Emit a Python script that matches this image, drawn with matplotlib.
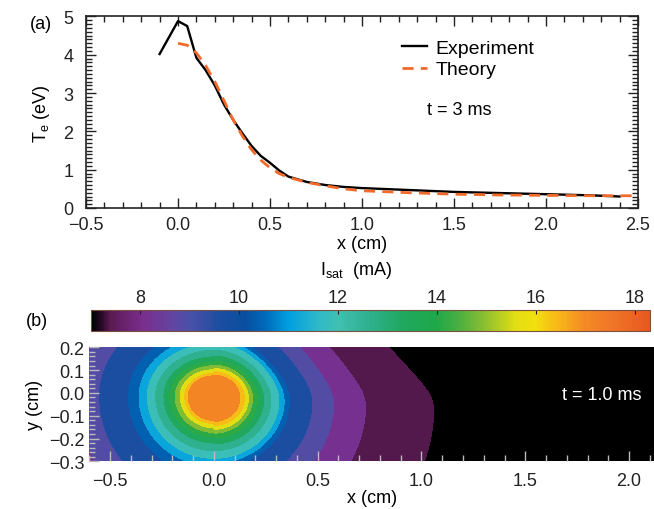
import numpy as np
import matplotlib
matplotlib.use("Agg")
import matplotlib.pyplot as plt
from matplotlib.colors import LinearSegmentedColormap, Normalize
from matplotlib.ticker import MultipleLocator
from matplotlib.cm import ScalarMappable

plt.rcParams['font.family'] = ['Liberation Sans', 'DejaVu Sans']
plt.rcParams['font.size'] = 13
plt.rcParams['mathtext.fontset'] = 'custom'
plt.rcParams['mathtext.rm'] = 'Liberation Sans'
plt.rcParams['mathtext.it'] = 'Liberation Sans'

# (a) electron temperature profiles, t = 3 ms
exp_x = [-0.1, 0.0, 0.05, 0.1, 0.15, 0.2, 0.25, 0.3, 0.35, 0.4, 0.45, 0.5, 0.55,
         0.6, 0.7, 0.8, 0.9, 1.0, 1.25, 1.5, 1.75, 2.0, 2.25, 2.4]
exp_te = [4.02, 4.88, 4.75, 3.92, 3.6, 3.2, 2.7, 2.3, 1.95, 1.62, 1.36, 1.18, 0.98,
          0.82, 0.68, 0.6, 0.55, 0.52, 0.47, 0.42, 0.39, 0.36, 0.33, 0.30]
th_x = [0.0, 0.05, 0.1, 0.15, 0.2, 0.25, 0.3, 0.35, 0.4, 0.45, 0.5, 0.55, 0.6,
        0.7, 0.8, 0.9, 1.0, 1.25, 1.5, 1.75, 2.0, 2.25, 2.5]
th_te = [4.3, 4.25, 4.05, 3.72, 3.3, 2.8, 2.3, 1.88, 1.52, 1.25, 1.05, 0.9, 0.8,
         0.67, 0.58, 0.5, 0.45, 0.4, 0.36, 0.34, 0.33, 0.32, 0.32]

# (b) Isat map at t = 1.0 ms, read as contour crossings from the spot centre
isat_levels = [17.4, 16.75, 16.0, 15.25, 14.5, 13.75, 13.0, 12.25, 11.5, 10.75,
               10.0, 9.25, 8.5, 7.75, 7.0, 6.0]
r_right = [0.0, 0.13, 0.15, 0.17, 0.19, 0.215, 0.245, 0.28, 0.32, 0.345, 0.37,
           0.48, 0.585, 0.74, 1.07, 1.5]
r_left = [0.0, 0.125, 0.14, 0.162, 0.186, 0.21, 0.24, 0.28, 0.32, 0.36, 0.41,
          0.55, 0.66, 0.78, 1.07, 1.5]
spot_x0, spot_y0 = 0.0, -0.015
scale_up, scale_down = 0.72, 0.85

cbar_ticks = [8, 10, 12, 14, 16, 18]

cmap_nodes = [(7.0, '#000000'), (7.12, '#140514'), (7.38, '#5a1a52'), (8.0, '#7a2c8c'),
              (8.6, '#6444a0'), (9.0, '#4a50a8'), (9.6, '#1c4ea0'), (10.1, '#0a4ea0'),
              (10.5, '#0068b8'), (11.0, '#00a0e0'), (11.6, '#30b8c8'), (12.0, '#40c0b0'),
              (12.6, '#30b090'), (13.3, '#20a860'), (14.0, '#1ea848'), (14.5, '#50b040'),
              (15.0, '#90c030'), (15.6, '#e0de14'), (16.0, '#f2e00e'), (16.4, '#f8bc18'),
              (17.0, '#f48a24'), (17.5, '#f07828'), (18.3, '#e85820')]
vmin, vmax = 7.0, 18.3
cmap = LinearSegmentedColormap.from_list(
    'isat', [((v - vmin) / (vmax - vmin), c) for v, c in cmap_nodes])
cmap.set_under('black')
norm = Normalize(vmin=vmin, vmax=vmax)

fig = plt.figure(figsize=(6.54, 5.10), dpi=100)

# ---- panel (a)
ax = fig.add_axes([0.1315, 0.5902, 0.844, 0.3755])
ax.plot(exp_x, exp_te, color='black', lw=1.7, label='Experiment')
ax.plot(th_x, th_te, color='#f26a2a', lw=2.0, dashes=(4, 2.6), label='Theory')
ax.set_xlim(-0.5, 2.5)
ax.set_ylim(0, 5)
ax.xaxis.set_major_locator(MultipleLocator(0.5))
ax.xaxis.set_minor_locator(MultipleLocator(0.1))
ax.yaxis.set_major_locator(MultipleLocator(1))
ax.yaxis.set_minor_locator(MultipleLocator(0.1))
ax.tick_params(which='both', direction='in', top=True, right=True, width=1.0,
               colors='#222222')
ax.tick_params(which='major', length=7)
ax.tick_params(which='minor', length=4)
ax.tick_params(axis='x', pad=6)
ax.tick_params(axis='y', pad=9)
for s in ax.spines.values():
    s.set_linewidth(1.2)
    s.set_color('#222222')
ax.set_xlabel('x (cm)', labelpad=1)
ax.set_ylabel(r'T$_{\rm e}$ (eV)', labelpad=8)
ax.legend(loc='upper left', bbox_to_anchor=(0.555, 0.93), frameon=False,
          handlelength=1.3, handletextpad=0.4, labelspacing=0.18, borderpad=0,
          fontsize=14)
ax.text(0.676, 0.512, 't = 3 ms', transform=ax.transAxes, ha='center', va='center')
fig.text(0.063, 0.951, '(a)', ha='center', va='center')

# ---- colorbar
cax = fig.add_axes([0.1387, 0.35, 0.8547, 0.0402])
cb = fig.colorbar(ScalarMappable(norm=norm, cmap=cmap), cax=cax,
                  orientation='horizontal', ticklocation='top')
cb.set_ticks(cbar_ticks)
cax.xaxis.set_minor_locator(MultipleLocator(0.5))
cax.tick_params(which='both', direction='in', length=3, width=0.8, pad=3,
                colors='#222222')
cb.outline.set_linewidth(0.8)
cb.outline.set_edgecolor('#7a5040')
fig.text(0.545, 0.47, r'I$_{\rm sat}$  (mA)', ha='center', va='center')
fig.text(0.056, 0.369, '(b)', ha='center', va='center')

# ---- panel (b)
bx = fig.add_axes([0.1365, 0.0935, 0.8635, 0.2235])
gx = np.linspace(-0.6, 2.12, 700)
gy = np.linspace(-0.3, 0.2, 240)
X, Y = np.meshgrid(gx, gy)
dx = X - spot_x0
dy = Y - spot_y0
# upper-right side of the outer contours is pulled in (smooth in dy)
dy_pos = 0.5 * (dy + np.sqrt(dy ** 2 + 0.05 ** 2))
dx_eff = np.where(dx > 0, dx * (1 + 1.0 * dy_pos), dx)
dy_eff = np.where(dy > 0, dy / scale_up, dy / scale_down)
R = np.hypot(dx_eff, dy_eff)
vals_right = np.interp(R, r_right, isat_levels)
vals_left = np.interp(R, r_left, isat_levels)
Z = np.where(dx > 0, vals_right, vals_left)
levels = np.arange(7.0, 17.6, 0.75)
bx.contourf(X, Y, Z, levels=levels, cmap=cmap, norm=norm, extend='min')
bx.set_xlim(-0.6, 2.12)
bx.set_ylim(-0.3, 0.2)
bx.xaxis.set_major_locator(MultipleLocator(0.5))
bx.xaxis.set_minor_locator(MultipleLocator(0.1))
bx.yaxis.set_major_locator(MultipleLocator(0.1))
bx.yaxis.set_minor_locator(MultipleLocator(0.02))
bx.tick_params(which='both', direction='in', colors='#bbbbbb', labelcolor='#222222',
               width=1.0)
bx.tick_params(which='major', length=7)
bx.tick_params(which='minor', length=4)
bx.tick_params(axis='x', pad=8)
for s in bx.spines.values():
    s.set_visible(False)
bx.set_xlabel('x (cm)', labelpad=0)
bx.set_ylabel('y (cm)', labelpad=4)
bx.text(1.87, -0.005, 't = 1.0 ms', color='white', ha='center', va='center')

fig.savefig('out.png', dpi=100)
